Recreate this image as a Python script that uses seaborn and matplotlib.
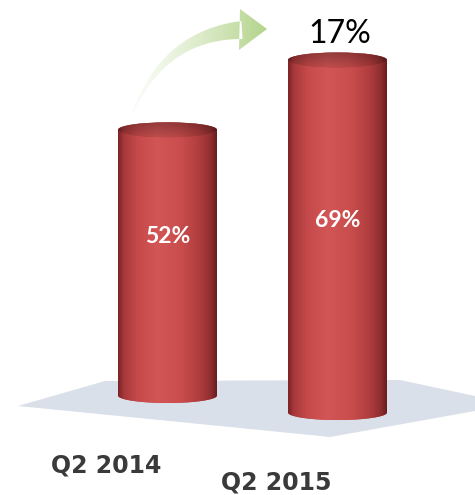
import numpy as np
import matplotlib
matplotlib.use("Agg")
import matplotlib.pyplot as plt
import seaborn as sns
from matplotlib.patches import Polygon, Ellipse, PathPatch
from matplotlib.path import Path
from matplotlib.colors import LinearSegmentedColormap

# ---- data ----
categories = ["Q2 2014", "Q2 2015"]
values = [52, 69]          # share, percent

# ---- layout (pixels / data units) ----
W, H = 475, 495
PX_PER_UNIT = 5.11          # vertical pixels per percent
PX_PER_CAT = 170.0          # horizontal pixels between category centres
FIRST_CENTRE = 167.5        # pixel x of first category
floor_level = [19.47, 16.14]  # perspective: nearer cylinder sits lower
ELLIPSE_HALF = 7.5 / PX_PER_UNIT
label_frac = [0.574, 0.526]

sns.set_theme(style="white")
plt.rcParams["font.family"] = ["Lato", "DejaVu Sans"]

fig = plt.figure(figsize=(W / 100, H / 100), dpi=100)
fig.patch.set_facecolor("white")

# ---- background layer in pixel coordinates: floor plane and growth arrow ----
bg = fig.add_axes([0, 0, 1, 1], zorder=0)
bg.set_xlim(0, W)
bg.set_ylim(H, 0)
bg.axis("off")

floor = Polygon([(18, 406), (105, 381), (400, 380), (475, 396), (475, 411),
                 (330, 437), (240, 428)], closed=True,
                facecolor="#d9e0e9", edgecolor="none")
bg.add_patch(floor)

# curved arrow: quadratic bezier shaft that widens towards the head
p0 = np.array([133.0, 112.0])
c = np.array([165.0, 35.0])
p2 = np.array([242.0, 30.0])
t = np.linspace(0, 1, 120)[:, None]
curve = (1 - t) ** 2 * p0 + 2 * (1 - t) * t * c + t ** 2 * p2
deriv = 2 * (1 - t) * (c - p0) + 2 * t * (p2 - c)
tang = deriv / np.linalg.norm(deriv, axis=1, keepdims=True)
normal = np.column_stack([-tang[:, 1], tang[:, 0]])
hw = 0.8 + 8.2 * t[:, 0] ** 1.2
left = curve + normal * hw[:, None]
right = curve - normal * hw[:, None]
shaft = np.vstack([left, right[::-1], left[:1]])
head = np.array([(240, 9), (267, 29), (239, 50), (240, 9)])
arrow_path = Path.make_compound_path(Path(shaft, closed=True), Path(head, closed=True))
arrow_clip = PathPatch(arrow_path, facecolor="none", edgecolor="none")
bg.add_patch(arrow_clip)

n = 256
grad = np.zeros((1, n, 4))
s = np.linspace(0, 1, n)
start = np.array([0.95, 0.97, 0.92])
end = np.array([0.70, 0.83, 0.54])
grad[0, :, :3] = start + (end - start) * s[:, None] ** 0.8
grad[0, :, 3] = 0.15 + 0.85 * s ** 0.7
im = bg.imshow(grad, extent=[128, 268, 120, 5], aspect="auto", interpolation="bilinear")
im.set_clip_path(arrow_clip)
bg.set_xlim(0, W)
bg.set_ylim(H, 0)

# ---- main layer: bars from the data ----
ax = fig.add_axes([0, 0, 1, 1], zorder=1)
ax.patch.set_alpha(0)
bar_w = 99.0 / PX_PER_CAT
sns.barplot(x=categories, y=values, ax=ax, width=bar_w, color="#c44848",
            saturation=1, linewidth=0)

body_cmap = LinearSegmentedColormap.from_list("cyl", [
    (0.00, "#7a2326"), (0.06, "#a8393b"), (0.20, "#c64a4b"), (0.40, "#d35656"),
    (0.62, "#cb4e4e"), (0.82, "#b13d3e"), (0.94, "#8f2e2f"), (1.00, "#681c1f")])

xg = np.linspace(0, 1, 256)[None, :]
# cap shading: horizontal cylinder tone, darker towards the back rim
shade = np.linspace(0.70, 0.90, 64)[:, None, None]
cap_img = np.clip(body_cmap(np.repeat(xg, 64, axis=0))[..., :3] * shade, 0, 1)

bars = sorted(ax.patches, key=lambda p: p.get_x())
tops = []
for i, p in enumerate(bars):
    base = floor_level[i]
    p.set_y(base)
    x0, w, h = p.get_x(), p.get_width(), p.get_height()
    cx = x0 + w / 2
    top = base + h
    tops.append(top)

    # body outline: flat sides with an elliptical bottom edge
    th = np.linspace(np.pi, 2 * np.pi, 60)
    arc = np.column_stack([cx + w / 2 * np.cos(th), base + ELLIPSE_HALF * np.sin(th)])
    verts = np.vstack([[x0, top], arc, [x0 + w, top], [x0, top]])
    body = PathPatch(Path(verts, closed=True), facecolor="#c44848", edgecolor="none", zorder=2)
    ax.add_patch(body)
    bim = ax.imshow(body_cmap(xg), extent=[x0, x0 + w, base - ELLIPSE_HALF, top],
                    aspect="auto", interpolation="bilinear", zorder=2.1)
    bim.set_clip_path(body)

    # top cap
    cap = Ellipse((cx, top), w, 2 * ELLIPSE_HALF, facecolor="#a93c3e",
                  edgecolor="none", zorder=3)
    ax.add_patch(cap)
    cim = ax.imshow(cap_img, extent=[x0, x0 + w, top - ELLIPSE_HALF, top + ELLIPSE_HALF],
                    aspect="auto", interpolation="bilinear", zorder=3.1)
    cim.set_clip_path(cap)

    # value inside the cylinder
    ax.text(cx, base + label_frac[i] * values[i], f"{values[i]}%", ha="center",
            va="baseline", color="white", fontsize=16.5, fontweight="bold",
            family=["Lato", "DejaVu Sans"], zorder=5)

    # category name under the floor
    ax.text(i - 0.362, base - 15.1, categories[i], ha="center", va="baseline",
            color="#3a3a3a", fontsize=17, fontweight="bold",
            family=["DejaVu Sans"], zorder=5)
    p.set_alpha(0)

# growth between the two quarters
ax.text(len(values) - 1 + 0.015, tops[-1] + 3.3, f"{values[1] - values[0]}%",
        ha="center", va="baseline", color="black", fontsize=23,
        family=["Lato", "DejaVu Sans"], zorder=5)

ax.set_xlim(-FIRST_CENTRE / PX_PER_CAT, (W - FIRST_CENTRE) / PX_PER_CAT)
ax.set_ylim(0, H / PX_PER_UNIT)
ax.axis("off")

fig.savefig("out.png", dpi=100, facecolor="white")
